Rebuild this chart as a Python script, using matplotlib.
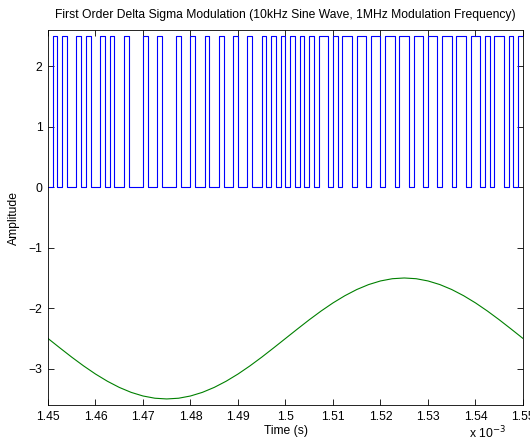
#!/usr/bin/env python3
"""
First order delta sigma modulation: bit stream (top) and the 10 kHz sine (bottom).
"""

import matplotlib.pyplot as plt
import matplotlib as mpl
import numpy as np

mpl.rcParams.update({
    'font.family': 'sans-serif',
    'font.sans-serif': ['Liberation Sans', 'DejaVu Sans'],
    'font.size': 8.7,
    'axes.linewidth': 0.6,
    'xtick.direction': 'in',
    'ytick.direction': 'in',
    'xtick.major.size': 4,
    'ytick.major.size': 4,
    'xtick.major.width': 0.6,
    'ytick.major.width': 0.6,
    'xtick.top': True,
    'ytick.right': True,
})

# ---------- Data (time in units of 1e-3 s) ----------
t_start = 1.45
bit_period = 0.001          # 1 MHz modulation -> 1 us per bit
high_level = 2.5

bits = [
    0, 1, 0, 1, 0, 0, 1, 0, 1, 0,
    0, 1, 0, 1, 0, 0, 1, 0, 0, 0,
    1, 0, 0, 1, 0, 0, 0, 1, 0, 0,
    1, 0, 0, 1, 0, 0, 1, 0, 0, 1,
    0, 0, 1, 0, 0, 1, 0, 1, 0, 1,
    0, 1, 0, 1, 0, 1, 0, 1, 1, 0,
    1, 0, 1, 1, 0, 1, 1, 0, 1, 1,
    0, 1, 1, 0, 1, 1, 0, 1, 1, 0,
    1, 1, 0, 1, 1, 0, 1, 1, 0, 1,
    1, 0, 1, 0, 1, 1, 0, 1, 0, 1,
]

# sine (offset by -2.5 for display), read every 2.5 us
sine_step = 0.0025
sine_vals = [
    -2.500, -2.656, -2.809, -2.954, -3.088, -3.207, -3.309, -3.391, -3.451, -3.488,
    -3.500, -3.488, -3.451, -3.391, -3.309, -3.207, -3.088, -2.954, -2.809, -2.656,
    -2.500, -2.344, -2.191, -2.046, -1.912, -1.793, -1.691, -1.609, -1.549, -1.512,
    -1.500, -1.512, -1.549, -1.609, -1.691, -1.793, -1.912, -2.046, -2.191, -2.344,
    -2.500,
]

xticks = [1.45, 1.46, 1.47, 1.48, 1.49, 1.50, 1.51, 1.52, 1.53, 1.54, 1.55]
xticklabels = ['1.45', '1.46', '1.47', '1.48', '1.49', '1.5', '1.51', '1.52', '1.53', '1.54', '1.55']
yticks = [-3, -2, -1, 0, 1, 2]
yticklabels = ['\u22123', '\u22122', '\u22121', '0', '1', '2']

# ---------- Figure ----------
fig = plt.figure(figsize=(5.30, 4.41), dpi=100)
ax = fig.add_axes([48 / 530, 36 / 441, 475 / 530, 375 / 441])

n = len(bits)
t_bits = t_start + bit_period * np.arange(n + 1)
levels = np.array(bits + [bits[-1]]) * high_level
ax.step(t_bits, levels, where='post', color='#0000ff', linewidth=0.8)

t_sine = t_start + sine_step * np.arange(len(sine_vals))
ax.plot(t_sine, sine_vals, color='#008000', linewidth=0.8)

ax.set_xlim(1.45, 1.55)
ax.set_ylim(-3.6, 2.6)
ax.set_xticks(xticks)
ax.set_xticklabels(xticklabels)
ax.set_yticks(yticks)
ax.set_yticklabels(yticklabels)
ax.tick_params(axis='x', labelsize=8.7, pad=4)
ax.tick_params(axis='y', labelsize=8.7, pad=4)

ax.set_title('First Order Delta Sigma Modulation (10kHz Sine Wave, 1MHz Modulation Frequency)',
             fontsize=8.7, pad=9)
ax.set_xlabel('Time (s)', fontsize=8.7, labelpad=2)
ax.set_ylabel('Amplitude', fontsize=8.7, labelpad=6)

# MATLAB style exponent label under the right end of the x axis
fig.text(487 / 530, 1 - 433 / 441, 'x 10$^{-3}$', fontsize=8.7, ha='center', va='center')

fig.savefig('out.png', dpi=100, facecolor='white')
plt.close(fig)
